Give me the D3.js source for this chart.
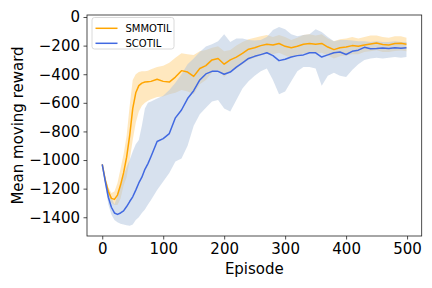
<!DOCTYPE html>
<html>
<head>
<meta charset="utf-8">
<script src="https://cdnjs.cloudflare.com/ajax/libs/d3/7.8.5/d3.min.js"></script>
<style>
  body { margin: 0; background: #fff; }
  svg { font-family: 'DejaVu Sans', sans-serif; }
</style>
</head>
<body>
<svg width="432" height="288"></svg>
<script>

let episodes = [0, 5, 10, 15, 20, 25, 30, 35, 40, 45, 50, 55, 60, 65, 70, 75, 80,
    90, 100, 110, 120, 130, 140, 150, 160, 170, 180, 190, 200, 210, 220, 230, 240,
    250, 260, 270, 280, 290, 300, 310, 320, 330, 340, 350, 360, 370, 380, 390, 400,
    410, 420, 430, 440, 450, 460, 470, 480, 490, 499];

let smmotilMean = [-1030, -1140, -1220, -1268, -1275, -1245, -1175, -1090, -980, -830, -640,
    -530, -480, -462, -455, -452, -450, -435, -450, -455, -420, -375, -385, -415, -360,
    -340, -300, -290, -330, -300, -280, -255, -225, -215, -200, -190, -195, -185, -205,
    -215, -205, -190, -185, -190, -185, -210, -228, -215, -210, -200, -205, -195, -188,
    -182, -192, -195, -185, -183, -190];
let smmotilHigh = [-1025, -1120, -1190, -1230, -1220, -1160, -1060, -960, -830, -620, -440,
    -400, -385, -380, -380, -375, -365, -350, -340, -320, -285, -254, -260, -265, -240,
    -231, -215, -205, -240, -230, -200, -175, -155, -145, -135, -125, -140, -125, -140,
    -160, -145, -125, -120, -130, -120, -150, -170, -155, -150, -140, -150, -140, -130,
    -130, -140, -145, -135, -135, -145];
let smmotilLow = [-1035, -1160, -1250, -1300, -1315, -1315, -1270, -1180, -1120, -1000, -860,
    -740, -660, -620, -600, -585, -575, -560, -555, -540, -530, -510, -520, -540, -470,
    -440, -390, -370, -420, -380, -360, -330, -300, -285, -270, -255, -260, -250, -270,
    -285, -270, -255, -250, -255, -250, -270, -290, -275, -270, -260, -260, -245, -240,
    -232, -245, -245, -238, -235, -240];

let scotilMean = [-1030, -1150, -1260, -1330, -1370, -1380, -1370, -1355, -1325, -1290, -1257,
    -1210, -1160, -1120, -1065, -1025, -975, -870, -850, -815, -705, -650, -570, -515, -440,
    -398, -380, -380, -400, -385, -350, -320, -290, -275, -263, -250, -270, -305, -295,
    -280, -270, -265, -250, -250, -280, -265, -250, -245, -262, -240, -232, -212, -222,
    -220, -217, -220, -215, -218, -215];
let scotilHigh = [-1025, -1120, -1200, -1260, -1310, -1250, -1180, -1110, -1050, -1000, -940,
    -890, -860, -760, -640, -600, -590, -570, -550, -510, -460, -400, -330, -290, -245,
    -207, -190, -170, -120, -175, -150, -150, -160, -165, -160, -140, -90, -70, -85,
    -120, -135, -125, -120, -85, -105, -140, -170, -160, -160, -165, -170, -170, -175,
    -170, -175, -175, -170, -175, -175];
let scotilLow = [-1035, -1180, -1310, -1380, -1420, -1435, -1445, -1450, -1455, -1460, -1450,
    -1420, -1400, -1370, -1345, -1310, -1280, -1210, -1150, -1090, -1010, -990, -900, -760, -680,
    -635, -590, -580, -640, -660, -580, -500, -450, -410, -380, -360, -440, -540, -520,
    -450, -380, -350, -350, -360, -480, -410, -390, -410, -420, -370, -330, -300, -290,
    -285, -290, -285, -280, -285, -280];

let xTicks = [0, 100, 200, 300, 400, 500];
let yTicks = [0, -200, -400, -600, -800, -1000, -1200, -1400];

let series = [
    { name: 'SMMOTIL', color: 'orange', fill: 'rgba(255,165,0,0.25)', mean: smmotilMean, high: smmotilHigh, low: smmotilLow },
    { name: 'SCOTIL', color: 'royalblue', fill: 'rgba(176,196,222,0.5)', mean: scotilMean, high: scotilHigh, low: scotilLow }
];

let svg = d3.select('svg');
let margin = { top: 15, right: 10.3, bottom: 52, left: 87 };
let width = +svg.attr('width');
let height = +svg.attr('height');

let x = d3.scaleLinear()
    .domain([-25, 524])
    .range([margin.left, width - margin.right]);

let y = d3.scaleLinear()
    .domain([-1531, 14])
    .range([height - margin.bottom, margin.top]);

let area = s => d3.area()
    .x((d, i) => x(episodes[i]))
    .y0((d, i) => y(s.low[i]))
    .y1((d, i) => y(s.high[i]));

let line = s => d3.line()
    .x((d, i) => x(episodes[i]))
    .y((d, i) => y(s.mean[i]));

series.forEach(s => {
    svg.append('path')
        .attr('d', area(s)(episodes))
        .attr('fill', s.fill)
        .attr('stroke', 'none');
});

series.forEach(s => {
    svg.append('path')
        .attr('d', line(s)(episodes))
        .attr('fill', 'none')
        .attr('stroke', s.color)
        .attr('stroke-width', 1.5)
        .attr('stroke-linejoin', 'round');
});

// axes
let xAxis = svg.append('g')
    .attr('transform', 'translate(0,' + (height - margin.bottom) + ')')
    .call(d3.axisBottom(x).tickValues(xTicks).tickSize(3.5).tickPadding(3.5).tickFormat(d3.format('d')));

let yAxis = svg.append('g')
    .attr('transform', 'translate(' + margin.left + ',0)')
    .call(d3.axisLeft(y).tickValues(yTicks).tickSize(3.5).tickPadding(3.5).tickFormat(d => d < 0 ? '\u2212' + Math.abs(d) : d));

[xAxis, yAxis].forEach(g => {
    g.select('.domain').remove();
    g.selectAll('.tick line').attr('stroke', '#222').attr('stroke-width', 0.8);
    g.selectAll('.tick text')
        .attr('fill', '#000')
        .style('font-family', 'DejaVu Sans')
        .style('font-size', '15px');
});

// frame
svg.append('rect')
    .attr('x', margin.left)
    .attr('y', margin.top)
    .attr('width', width - margin.left - margin.right)
    .attr('height', height - margin.top - margin.bottom)
    .attr('fill', 'none')
    .attr('stroke', '#222')
    .attr('stroke-width', 0.8);

svg.append('text')
    .attr('text-anchor', 'middle')
    .attr('x', (margin.left + width - margin.right) / 2)
    .attr('y', 274)
    .attr('font-size', '15px')
    .text('Episode');

svg.append('text')
    .attr('text-anchor', 'middle')
    .attr('transform', 'translate(23,' + ((margin.top + height - margin.bottom) / 2) + ')rotate(-90)')
    .attr('font-size', '15px')
    .text('Mean moving reward');

// legend
let legend = svg.append('g')
    .attr('transform', 'translate(92,17.5)');

legend.append('rect')
    .attr('width', 82)
    .attr('height', 31.5)
    .attr('rx', 2.5)
    .attr('fill', 'rgba(255,255,255,0.8)')
    .attr('stroke', '#d0d0d0')
    .attr('stroke-width', 0.8);

let item = legend.selectAll('.item')
    .data(series)
    .enter().append('g')
    .attr('transform', (d, i) => 'translate(0,' + (10.8 + i * 15) + ')');

item.append('line')
    .attr('x1', 3.5)
    .attr('x2', 25.5)
    .attr('stroke', d => d.color)
    .attr('stroke-width', 1.5);

item.append('text')
    .attr('x', 33.5)
    .attr('y', 3.6)
    .attr('font-size', '10px')
    .text(d => d.name);

</script>
</body>
</html>
